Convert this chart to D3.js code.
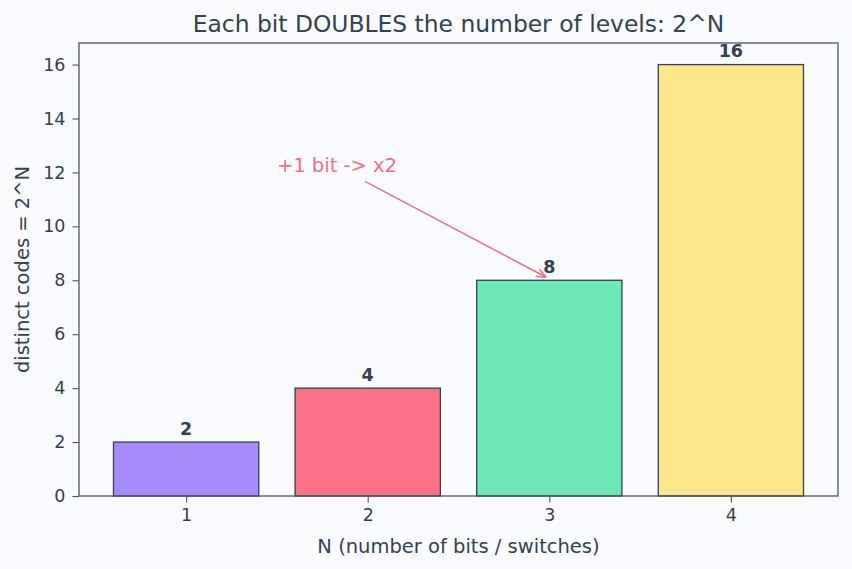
<!DOCTYPE html>
<html><head><meta charset="utf-8">
<script src="https://cdn.jsdelivr.net/npm/d3@7"></script>
<style>body{margin:0;background:#fafbfe;} text{font-family:"DejaVu Sans",sans-serif;}</style>
</head><body>
<svg id="c" width="852" height="569"></svg>
<script>
const categories = [1, 2, 3, 4];
const values = [2, 4, 8, 16];
const colors = ["#a78bfa", "#fb7185", "#6ee7b7", "#fde68a"];
const yTicks = [0, 2, 4, 6, 8, 10, 12, 14, 16];
const title = "Each bit DOUBLES the number of levels: 2^N";
const xLabel = "N (number of bits / switches)";
const yLabel = "distinct codes = 2^N";
const annotation = {text: "+1 bit -> x2", x: 1.5, y: 12, tx: 3, ty: 8};

const svg = d3.select("#c");
const W = 852, H = 569;
const m = {l: 79, r: 14, t: 43, b: 73};
const ink = "#334155";
svg.append("rect").attr("width", W).attr("height", H).attr("fill", "#fafbfe");

const x = d3.scaleLinear().domain([0.41, 4.59]).range([m.l, W - m.r]);
const y = d3.scaleLinear().domain([0, 16.8]).range([H - m.b, m.t]);
const bw = x(1.8) - x(1);

const g = svg.append("g");
g.selectAll("rect.bar").data(values).join("rect").attr("class", "bar")
  .attr("x", (d, i) => x(categories[i]) - bw / 2)
  .attr("y", d => y(d))
  .attr("width", bw)
  .attr("height", d => y(0) - y(d))
  .attr("fill", (d, i) => colors[i])
  .attr("stroke", ink).attr("stroke-width", 1.3);

g.selectAll("text.val").data(values).join("text").attr("class", "val")
  .attr("x", (d, i) => x(categories[i]))
  .attr("y", d => y(d) - 7.5)
  .attr("text-anchor", "middle").attr("font-size", 17.5).attr("font-weight", "bold")
  .attr("fill", ink).text(d => d);

const xa = svg.append("g").attr("transform", `translate(0,${H - m.b})`)
  .call(d3.axisBottom(x).tickValues(categories).tickFormat(d3.format("d")).tickSize(6.5).tickPadding(6));
const ya = svg.append("g").attr("transform", `translate(${m.l},0)`)
  .call(d3.axisLeft(y).tickValues(yTicks).tickSize(6.5).tickPadding(7));
[xa, ya].forEach(a => {
  a.select(".domain").remove();
  a.selectAll("line").attr("stroke", "#4b5563").attr("stroke-width", 1.1);
  a.selectAll("text").attr("font-size", 17.5).attr("fill", ink).attr("font-family", '"DejaVu Sans",sans-serif');
});

svg.append("rect").attr("x", m.l).attr("y", m.t).attr("width", W - m.r - m.l).attr("height", H - m.b - m.t)
  .attr("fill", "none").attr("stroke", "#4b5563").attr("stroke-width", 1.3);

svg.append("text").attr("x", (m.l + W - m.r) / 2).attr("y", 32).attr("text-anchor", "middle")
  .attr("font-size", 23.4).attr("fill", ink).text(title);
svg.append("text").attr("x", (m.l + W - m.r) / 2).attr("y", 553).attr("text-anchor", "middle")
  .attr("font-size", 19.5).attr("fill", ink).text(xLabel);
svg.append("text").attr("transform", `translate(29,${(m.t + H - m.b) / 2}) rotate(-90)`).attr("text-anchor", "middle")
  .attr("font-size", 19.5).attr("fill", ink).text(yLabel);

// annotation
const acol = "#f07089";
svg.append("defs").append("marker").attr("id", "ah").attr("viewBox", "0 0 10 10")
  .attr("refX", 10).attr("refY", 5).attr("markerWidth", 10).attr("markerHeight", 10)
  .attr("markerUnits", "userSpaceOnUse").attr("orient", "auto")
  .append("path").attr("d", "M0,1 L10,5 L0,9").attr("fill", "none").attr("stroke", acol).attr("stroke-width", 1.5);
svg.append("text").attr("x", x(annotation.x)).attr("y", y(annotation.y)).attr("font-size", 19.5)
  .attr("fill", acol).text(annotation.text);
const x0 = x(annotation.x) + 88, y0 = y(annotation.y) + 9;
const x1 = x(annotation.tx) - 3, y1 = y(annotation.ty) - 3;
svg.append("line").attr("x1", x0).attr("y1", y0).attr("x2", x1).attr("y2", y1)
  .attr("stroke", acol).attr("stroke-width", 1.5).attr("marker-end", "url(#ah)");
</script>
</body></html>
